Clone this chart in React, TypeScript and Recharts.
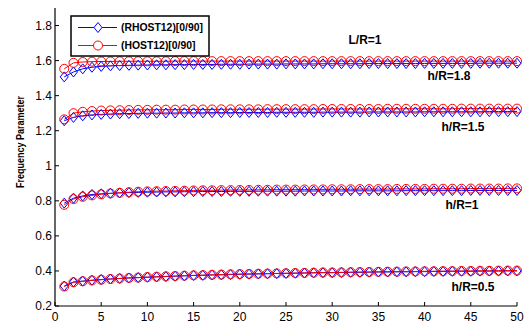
import { Line, LineChart, XAxis, YAxis } from "recharts";

// x = number of terms / mode index
const xs = [
  1, 2, 3, 4, 5, 6, 7, 8, 9, 10, 11, 12, 13, 14, 15, 16, 17, 18, 19, 20, 21, 22, 23, 24, 25,
  26, 27, 28, 29, 30, 31, 32, 33, 34, 35, 36, 37, 38, 39, 40, 41, 42, 43, 44, 45, 46, 47, 48, 49, 50,
];

// (RHOST12)[0/90] - blue diamonds
const rhost18 = [
  1.507, 1.535, 1.553, 1.562, 1.567, 1.57, 1.572, 1.573, 1.574, 1.575,
  1.576, 1.576, 1.577, 1.577, 1.578, 1.578, 1.578, 1.579, 1.579, 1.579,
  1.58, 1.58, 1.58, 1.58, 1.581, 1.581, 1.581, 1.581, 1.582, 1.582,
  1.582, 1.582, 1.582, 1.583, 1.583, 1.583, 1.583, 1.583, 1.583, 1.584,
  1.584, 1.584, 1.584, 1.584, 1.584, 1.585, 1.585, 1.585, 1.585, 1.585,
];
const rhost15 = [
  1.257, 1.276, 1.285, 1.29, 1.293, 1.295, 1.297, 1.298, 1.299, 1.3,
  1.3, 1.301, 1.301, 1.302, 1.302, 1.302, 1.303, 1.303, 1.303, 1.304,
  1.304, 1.304, 1.304, 1.305, 1.305, 1.305, 1.305, 1.305, 1.306, 1.306,
  1.306, 1.306, 1.306, 1.307, 1.307, 1.307, 1.307, 1.307, 1.307, 1.308,
  1.308, 1.308, 1.308, 1.308, 1.308, 1.308, 1.309, 1.309, 1.309, 1.309,
];
const rhost10 = [
  0.787, 0.815, 0.828, 0.836, 0.84, 0.843, 0.845, 0.847, 0.848, 0.849,
  0.85, 0.851, 0.851, 0.852, 0.852, 0.853, 0.853, 0.853, 0.854, 0.854,
  0.854, 0.855, 0.855, 0.855, 0.855, 0.855, 0.856, 0.856, 0.856, 0.856,
  0.856, 0.857, 0.857, 0.857, 0.857, 0.857, 0.857, 0.858, 0.858, 0.858,
  0.858, 0.858, 0.858, 0.858, 0.859, 0.859, 0.859, 0.859, 0.859, 0.859,
];
const rhost05 = [
  0.314, 0.337, 0.342, 0.347, 0.351, 0.354, 0.357, 0.36, 0.362, 0.364,
  0.366, 0.368, 0.37, 0.372, 0.374, 0.375, 0.377, 0.378, 0.379, 0.381,
  0.382, 0.383, 0.384, 0.385, 0.386, 0.387, 0.388, 0.389, 0.39, 0.39,
  0.391, 0.392, 0.392, 0.393, 0.394, 0.394, 0.395, 0.395, 0.396, 0.396,
  0.397, 0.397, 0.398, 0.398, 0.398, 0.399, 0.399, 0.399, 0.4, 0.4,
];

// (HOST12)[0/90] - red circles
const host18 = [
  1.553, 1.587, 1.592, 1.594, 1.595, 1.595, 1.596, 1.596, 1.596, 1.596,
  1.596, 1.596, 1.597, 1.597, 1.597, 1.597, 1.597, 1.597, 1.597, 1.597,
  1.597, 1.597, 1.597, 1.597, 1.597, 1.597, 1.597, 1.597, 1.597, 1.597,
  1.597, 1.597, 1.597, 1.597, 1.597, 1.597, 1.597, 1.597, 1.597, 1.597,
  1.597, 1.597, 1.597, 1.597, 1.597, 1.597, 1.597, 1.597, 1.597, 1.597,
];
const host15 = [
  1.265, 1.3, 1.308, 1.312, 1.315, 1.316, 1.317, 1.318, 1.319, 1.319,
  1.32, 1.32, 1.32, 1.321, 1.321, 1.321, 1.321, 1.322, 1.322, 1.322,
  1.322, 1.322, 1.323, 1.323, 1.323, 1.323, 1.323, 1.323, 1.324, 1.324,
  1.324, 1.324, 1.324, 1.324, 1.324, 1.325, 1.325, 1.325, 1.325, 1.325,
  1.325, 1.325, 1.325, 1.326, 1.326, 1.326, 1.326, 1.326, 1.326, 1.326,
];
const host10 = [
  0.777, 0.81, 0.823, 0.831, 0.837, 0.842, 0.846, 0.849, 0.852, 0.854,
  0.855, 0.856, 0.857, 0.858, 0.859, 0.86, 0.86, 0.861, 0.861, 0.862,
  0.862, 0.863, 0.863, 0.864, 0.864, 0.864, 0.865, 0.865, 0.865, 0.866,
  0.866, 0.866, 0.867, 0.867, 0.867, 0.867, 0.868, 0.868, 0.868, 0.868,
  0.869, 0.869, 0.869, 0.869, 0.87, 0.87, 0.87, 0.87, 0.871, 0.871,
];
const host05 = [
  0.311, 0.335, 0.341, 0.346, 0.35, 0.354, 0.357, 0.36, 0.362, 0.365,
  0.367, 0.369, 0.371, 0.373, 0.375, 0.376, 0.378, 0.379, 0.381, 0.382,
  0.383, 0.384, 0.385, 0.386, 0.387, 0.388, 0.389, 0.39, 0.391, 0.391,
  0.392, 0.393, 0.394, 0.394, 0.395, 0.396, 0.396, 0.397, 0.397, 0.398,
  0.398, 0.399, 0.399, 0.4, 0.4, 0.401, 0.401, 0.402, 0.402, 0.402,
];

const xTicks = [0, 5, 10, 15, 20, 25, 30, 35, 40, 45, 50];
const yTicks = [0.2, 0.4, 0.6, 0.8, 1, 1.2, 1.4, 1.6, 1.8];

const data = xs.map((x, i) => ({
  x,
  b18: rhost18[i], b15: rhost15[i], b10: rhost10[i], b05: rhost05[i],
  r18: host18[i], r15: host15[i], r10: host10[i], r05: host05[i],
}));

const BLUE = "#0000ff";
const RED = "#ff0000";
const FONT = "'Liberation Sans', Arial, Helvetica, sans-serif";

const Diamond = (props: any) => {
  const { cx, cy, index } = props;
  if (cx == null || cy == null) return <g key={index} />;
  return (
    <path
      key={index}
      d={`M${cx},${cy - 5}L${cx + 4},${cy}L${cx},${cy + 5}L${cx - 4},${cy}Z`}
      fill="none"
      stroke={BLUE}
      strokeWidth={1}
    />
  );
};

const Ring = (props: any) => {
  const { cx, cy, index } = props;
  if (cx == null || cy == null) return <g key={index} />;
  return <circle key={index} cx={cx} cy={cy} r={4.5} fill="none" stroke={RED} strokeWidth={1} />;
};

const notes = [
  { text: "L/R=1", x: 365, y: 40 },
  { text: "h/R=1.8", x: 449, y: 76 },
  { text: "h/R=1.5", x: 463, y: 127 },
  { text: "h/R=1", x: 462, y: 205 },
  { text: "h/R=0.5", x: 473, y: 287 },
];

export default function App() {
  const tickStyle = { fontSize: 12, fill: "#000", fontFamily: FONT };
  return (
    <div style={{ position: "absolute", left: 0, top: 0, width: 524, height: 325, background: "#fff" }}>
      <LineChart width={524} height={325} data={data} margin={{ top: 8, right: 7, bottom: 0, left: 0 }}>
        <XAxis
          dataKey="x"
          type="number"
          domain={[0, 50]}
          ticks={xTicks}
          height={19}
          tick={tickStyle}
          tickSize={-4}
          tickMargin={10}
          axisLine={{ stroke: "#000", strokeWidth: 1.2 }}
          tickLine={{ stroke: "#000" }}
          interval={0}
        />
        <XAxis
          xAxisId="top"
          dataKey="x"
          type="number"
          orientation="top"
          domain={[0, 50]}
          ticks={xTicks}
          height={0}
          tick={false}
          tickSize={-4}
          axisLine={{ stroke: "#000", strokeWidth: 1 }}
          tickLine={{ stroke: "#000" }}
        />
        <YAxis
          type="number"
          domain={[0.2, 1.9]}
          ticks={yTicks}
          width={55}
          tick={tickStyle}
          tickSize={-4}
          tickMargin={7}
          interval={0}
          axisLine={{ stroke: "#000", strokeWidth: 1.2 }}
          tickLine={{ stroke: "#000" }}
        />
        <YAxis
          yAxisId="right"
          orientation="right"
          type="number"
          domain={[0.2, 1.9]}
          ticks={yTicks}
          width={0}
          tick={false}
          tickSize={-4}
          axisLine={{ stroke: "#000", strokeWidth: 1 }}
          tickLine={{ stroke: "#000" }}
        />
        {(["b18", "b15", "b10", "b05"] as const).map((k) => (
          <Line
            key={k}
            dataKey={k}
            stroke={BLUE}
            strokeWidth={1}
            dot={Diamond}
            isAnimationActive={false}
            type="linear"
          />
        ))}
        {(["r18", "r15", "r10", "r05"] as const).map((k) => (
          <Line
            key={k}
            dataKey={k}
            stroke={RED}
            strokeWidth={1}
            dot={Ring}
            isAnimationActive={false}
            type="linear"
          />
        ))}
      </LineChart>

      {/* y axis title */}
      <svg width={30} height={325} style={{ position: "absolute", left: 0, top: 0 }}>
        <text
          x={20}
          y={142}
          transform="rotate(-90 20 142)"
          textAnchor="middle"
          dominantBaseline="central"
          fontFamily={FONT}
          fontWeight="bold"
          fontSize={10}
          textLength={92}
          lengthAdjust="spacingAndGlyphs"
          fill="#000"
        >
          Frequency Parameter
        </text>
      </svg>

      <svg
        width={142}
        height={44}
        style={{ position: "absolute", left: 70, top: 15 }}
        fontFamily={FONT}
      >
        <rect x={1} y={1} width={138} height={40} fill="#fff" stroke="#000" strokeWidth={1.5} />
        <line x1={8} x2={47} y1={12.5} y2={12.5} stroke={BLUE} />
        <path d="M28,7.5L32,12.5L28,17.5L24,12.5Z" fill="#fff" stroke={BLUE} />
        <text x={51} y={12.5} dy="0.35em" fontSize={10.4} fontWeight="bold" fill="#000">
          (RHOST12)[0/90]
        </text>
        <line x1={8} x2={47} y1={30.5} y2={30.5} stroke={RED} />
        <circle cx={28} cy={30.5} r={4.5} fill="#fff" stroke={RED} />
        <text x={51} y={30.5} dy="0.35em" fontSize={10.4} fontWeight="bold" fill="#000">
          (HOST12)[0/90]
        </text>
      </svg>

      {notes.map((n) => (
        <div
          key={n.text}
          style={{
            position: "absolute",
            left: n.x,
            top: n.y,
            transform: "translate(-50%, -50%)",
            fontFamily: FONT,
            fontWeight: "bold",
            fontSize: 12,
            whiteSpace: "nowrap",
            lineHeight: 1,
          }}
        >
          {n.text}
        </div>
      ))}
    </div>
  );
}
